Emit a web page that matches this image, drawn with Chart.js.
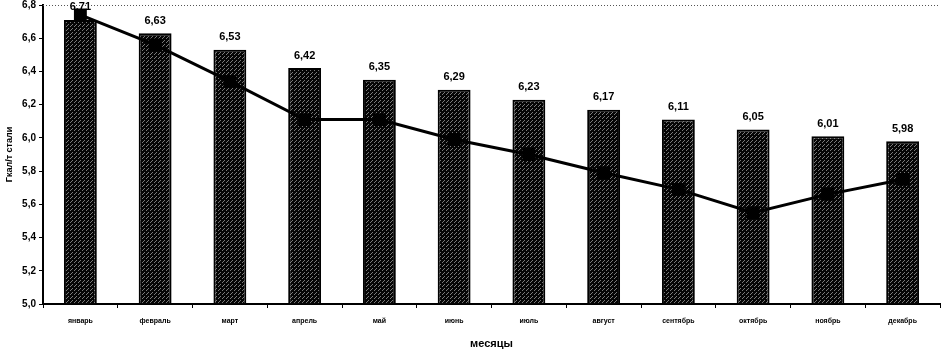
<!DOCTYPE html>
<html><head><meta charset="utf-8">
<script src="https://cdn.jsdelivr.net/npm/chart.js@4/dist/chart.umd.min.js"></script>
<style>html,body{margin:0;padding:0;background:#fff}#w{width:942px;height:351px}</style>
</head><body><div id="w"><canvas id="c" width="942" height="351"></canvas></div>
<script>
const months = ['январь','февраль','март','апрель','май','июнь','июль','август','сентябрь','октябрь','ноябрь','декабрь'];
const barValues = [6.71,6.63,6.53,6.42,6.35,6.29,6.23,6.17,6.11,6.05,6.01,5.98];
const lineValues = [6.74,6.56,6.34,6.11,6.11,5.99,5.90,5.79,5.69,5.55,5.66,5.75];
const yTicks = [5.0,5.2,5.4,5.6,5.8,6.0,6.2,6.4,6.6,6.8];

function makePattern(){
  const p=document.createElement('canvas');p.width=4;p.height=4;
  const g=p.getContext('2d');
  g.fillStyle='#050505';g.fillRect(0,0,4,4);
  g.fillStyle='#7a7a7a';
  g.fillRect(0,0,1,1);g.fillRect(2,2,1,1);g.fillRect(3,1,1,1);
  return g.createPattern(p,'repeat');
}
const fmt = v => v.toFixed(2).replace('.',',');
const labelPlugin = {
  id:'lbl',
  beforeDatasetsDraw(chart){
    const ctx=chart.ctx,a=chart.chartArea;
    ctx.save();ctx.strokeStyle='#555';ctx.lineWidth=1;ctx.setLineDash([1,2]);
    ctx.beginPath();ctx.moveTo(a.left,a.top+0.5);ctx.lineTo(a.right,a.top+0.5);ctx.stroke();ctx.restore();
  },
  afterDatasetsDraw(chart){
    const ctx=chart.ctx;const meta=chart.getDatasetMeta(1);
    ctx.save();ctx.font='bold 11px "Liberation Sans", Arial, sans-serif';
    ctx.fillStyle='#000';ctx.textAlign='center';ctx.textBaseline='bottom';
    meta.data.forEach((b,i)=>{ctx.fillText(fmt(barValues[i]),b.x,b.y-7);});
    ctx.restore();
  }
};
new Chart(document.getElementById('c'),{
  data:{labels:months,datasets:[
    {type:'line',data:lineValues,borderColor:'#000',borderWidth:3,pointStyle:'rect',pointRadius:7,pointBackgroundColor:'#000',pointBorderColor:'#000',tension:0,order:0,clip:false},
    {type:'bar',data:barValues,backgroundColor:makePattern(),borderColor:'#000',borderWidth:2,categoryPercentage:1,barPercentage:0.44,order:1}
  ]},
  options:{responsive:false,animation:false,
    layout:{autoPadding:false,padding:{top:5,right:2,left:0,bottom:0}},
    plugins:{legend:{display:false},tooltip:{enabled:false}},
    scales:{
      x:{grid:{display:true,drawOnChartArea:false,offset:true,color:'#000',tickLength:4,lineWidth:1},
         border:{color:'#000',width:2},
         ticks:{font:{family:'"Liberation Sans", Arial, sans-serif',size:7,weight:'bold'},color:'#000',padding:9,maxRotation:0,autoSkip:false},
         title:{display:true,text:'месяцы',font:{family:'"Liberation Sans", Arial, sans-serif',size:11,weight:'bold'},color:'#000',padding:{top:12,bottom:0}},
         afterFit(s){s.height=47;s.paddingLeft=0;s.paddingRight=0;}},
      y:{min:5,max:6.8,afterBuildTicks(s){s.ticks=yTicks.map(v=>({value:v}));},
         afterFit(s){s.width=43;s.paddingTop=0;s.paddingBottom=0;},
         grid:{drawOnChartArea:false,color:'#000',tickLength:4},
         border:{color:'#000',width:2},
         ticks:{font:{family:'"Liberation Sans", Arial, sans-serif',size:10,weight:'bold'},color:'#000',padding:3,callback:(v)=>v.toFixed(1).replace('.',',')},
         title:{display:true,text:'Гкал/т стали',font:{family:'"Liberation Sans", Arial, sans-serif',size:9,weight:'bold'},color:'#000',padding:{top:4,bottom:2}}}
    }
  },
  plugins:[labelPlugin]
});
</script></body></html>
